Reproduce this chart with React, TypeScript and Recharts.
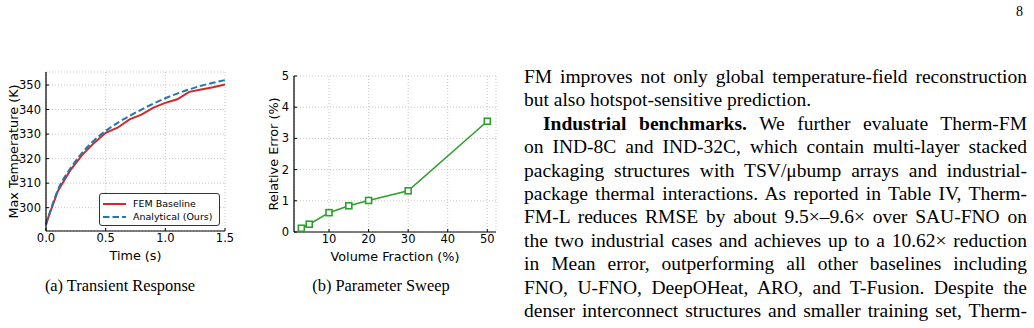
import React from 'react';
import { LineChart, Line, XAxis, YAxis, CartesianGrid } from 'recharts';

// (a) transient response
const timeSteps = [0, 0.1, 0.2, 0.3, 0.4, 0.5, 0.6, 0.7, 0.8, 0.9, 1.0, 1.1, 1.2, 1.3, 1.4, 1.5];
const femBaseline = [293.5, 306.8, 315.0, 321.3, 326.3, 330.5, 332.6, 336.0, 337.9, 340.8, 342.7, 344.2, 347.2, 348.2, 349.1, 350.2];
const analytical = [293.0, 307.3, 315.7, 322.2, 327.3, 331.3, 334.6, 337.4, 340.0, 342.4, 344.6, 346.5, 348.2, 349.7, 350.9, 352.0];
const timeTicks = [0, 0.5, 1.0, 1.5];
const tempTicks = [300, 310, 320, 330, 340, 350];

// (b) parameter sweep
const volumeFractions = [3, 5, 10, 15, 20, 30, 50];
const relativeError = [0.12, 0.25, 0.62, 0.84, 1.01, 1.32, 3.55];
const fractionTicks = [10, 20, 30, 40, 50];
const errorTicks = [0, 1, 2, 3, 4, 5];

const seriesNames = ['FEM Baseline', 'Analytical (Ours)'];

const bodyLines = [
  'FM improves not only global temperature-field reconstruction',
  'but also hotspot-sensitive prediction.',
  '',
  'on IND-8C and IND-32C, which contain multi-layer stacked',
  'packaging structures with TSV/\u03bcbump arrays and industrial-',
  'package thermal interactions. As reported in Table IV, Therm-',
  'FM-L reduces RMSE by about 9.5\u00d7\u20139.6\u00d7 over SAU-FNO on',
  'the two industrial cases and achieves up to a 10.62\u00d7 reduction',
  'in Mean error, outperforming all other baselines including',
  'FNO, U-FNO, DeepOHeat, ARO, and T-Fusion. Despite the',
  'denser interconnect structures and smaller training set, Therm-',
];

const RED = '#d62728';
const BLUE = '#1f77b4';
const GREEN = '#2ca02c';
const SANS = 'DejaVu Sans';

const transientData = timeSteps.map((t, i) => ({ t, fem: femBaseline[i], ana: analytical[i] }));
const sweepData = volumeFractions.map((v, i) => ({ v, err: relativeError[i] }));

const tickStyle = { fontSize: 11.5, fill: '#000', fontFamily: SANS };
const labelStyle = { fontSize: 12.8, fill: '#000', fontFamily: SANS, textAnchor: 'middle' as const };

const SquareDot = (props: any) => {
  const { cx, cy, index } = props;
  if (cx == null || cy == null) return null;
  return <rect key={`sq-${index}`} x={cx - 3} y={cy - 3} width={6} height={6} fill="#fff" stroke={GREEN} strokeWidth={1.6} />;
};

const TransientChart = () => (
  <LineChart width={240} height={207} data={transientData} margin={{ top: 12, right: 15, left: 10, bottom: 6 }}>
    <CartesianGrid stroke="#c8c8c8" strokeDasharray="1 2" />
    <XAxis
      dataKey="t"
      type="number"
      domain={[0, 1.5]}
      ticks={timeTicks}
      tickFormatter={(v: number) => v.toFixed(1)}
      tick={tickStyle}
      tickSize={-3}
      tickMargin={6}
      height={30}
      axisLine={{ stroke: '#000', strokeWidth: 1.2 }}
      tickLine={{ stroke: '#000' }}
      label={{ value: 'Time (s)', position: 'insideBottom', offset: 1, style: labelStyle }}
    />
    <XAxis xAxisId="top" orientation="top" dataKey="t" type="number" domain={[0, 1.5]} height={0} tick={false} tickLine={false} axisLine={{ stroke: '#000', strokeWidth: 1.2 }} />
    <YAxis
      type="number"
      domain={[290.5, 355.3]}
      ticks={tempTicks}
      tick={tickStyle}
      tickSize={-3}
      tickMargin={8}
      width={36}
      allowDataOverflow
      axisLine={{ stroke: '#000', strokeWidth: 1.2 }}
      tickLine={{ stroke: '#000' }}
      label={{ value: 'Max Temperature (K)', angle: -90, position: 'insideLeft', offset: 3, style: labelStyle }}
    />
    <YAxis yAxisId="right" orientation="right" type="number" domain={[290.5, 355.3]} width={0} tick={false} tickLine={false} axisLine={{ stroke: '#000', strokeWidth: 1.2 }} />
    <Line dataKey="fem" type="linear" stroke={RED} strokeWidth={2} dot={false} isAnimationActive={false} />
    <Line dataKey="ana" type="monotone" stroke={BLUE} strokeWidth={2} strokeDasharray="6.5 3" dot={false} isAnimationActive={false} />
  </LineChart>
);

const SweepChart = () => (
  <LineChart width={260} height={208} data={sweepData} margin={{ top: 16, right: 14, left: 20, bottom: 6 }}>
    <CartesianGrid stroke="#c8c8c8" strokeDasharray="1 2" />
    <XAxis
      dataKey="v"
      type="number"
      domain={[1.15, 52.2]}
      ticks={fractionTicks}
      tick={tickStyle}
      tickSize={-3}
      tickMargin={6}
      height={30}
      allowDataOverflow
      axisLine={{ stroke: '#000', strokeWidth: 1.2 }}
      tickLine={{ stroke: '#000' }}
      label={{ value: 'Volume Fraction (%)', position: 'insideBottom', offset: 1, style: labelStyle }}
    />
    <XAxis xAxisId="top" orientation="top" dataKey="v" type="number" domain={[1.15, 52.2]} height={0} tick={false} tickLine={false} axisLine={{ stroke: '#000', strokeWidth: 1.2 }} />
    <YAxis
      type="number"
      domain={[0, 5]}
      ticks={errorTicks}
      tick={tickStyle}
      tickSize={-3}
      tickMargin={8}
      width={24}
      axisLine={{ stroke: '#000', strokeWidth: 1.2 }}
      tickLine={{ stroke: '#000' }}
      label={{ value: 'Relative Error (%)', angle: -90, position: 'insideLeft', offset: 3, style: labelStyle }}
    />
    <YAxis yAxisId="right" orientation="right" type="number" domain={[0, 5]} width={0} tick={false} tickLine={false} axisLine={{ stroke: '#000', strokeWidth: 1.2 }} />
    <Line dataKey="err" type="linear" stroke={GREEN} strokeWidth={1.6} dot={<SquareDot />} isAnimationActive={false} />
  </LineChart>
);

const LegendBox = () => (
  <div style={{
    position: 'absolute', left: 99, top: 193, width: 119, height: 31,
    border: '1px solid #333', borderRadius: 3, background: '#fff',
    fontFamily: SANS, fontSize: 9.5, color: '#000',
  }}>
    {seriesNames.map((name, i) => (
      <div key={name} style={{ position: 'absolute', left: 3, top: 3 + i * 13, height: 13, display: 'flex', alignItems: 'center', whiteSpace: 'nowrap' }}>
        <svg width={24} height={4} style={{ marginRight: 6 }}>
          <line x1={0} y1={2} x2={23} y2={2} stroke={i === 0 ? RED : BLUE} strokeWidth={2} strokeDasharray={i === 0 ? undefined : '6.5 3'} />
        </svg>
        <span>{name}</span>
      </div>
    ))}
  </div>
);

export default function App() {
  return (
    <div style={{ position: 'absolute', left: 0, top: 0, width: 1034, height: 328, background: '#fff', fontFamily: 'Liberation Serif', color: '#000', overflow: 'hidden' }}>
      <div style={{ position: 'absolute', left: 1016, top: 4, fontSize: 14 }}>8</div>

      <div style={{ position: 'absolute', left: 0, top: 60 }}>
        <TransientChart />
      </div>
      <LegendBox />
      <div style={{ position: 'absolute', left: 250, top: 60 }}>
        <SweepChart />
      </div>

      <div style={{ position: 'absolute', left: 0, top: 276, width: 240, textAlign: 'center', fontSize: 16.4 }}>(a) Transient Response</div>
      <div style={{ position: 'absolute', left: 281, top: 276, width: 200, textAlign: 'center', fontSize: 16.4 }}>(b) Parameter Sweep</div>

      <div style={{ position: 'absolute', left: 524, top: 65, width: 503, fontSize: 19.5, lineHeight: '23.4px' }}>
        {bodyLines.map((line, i) => {
          if (i === 2) {
            return (
              <div key={i} style={{ textAlign: 'justify', textAlignLast: 'justify', textIndent: 19, whiteSpace: 'nowrap' }}>
                <b>Industrial benchmarks.</b> We further evaluate Therm-FM
              </div>
            );
          }
          const last = i === 1;
          return (
            <div key={i} style={{ textAlign: last ? 'left' : 'justify', textAlignLast: last ? 'left' : 'justify', whiteSpace: 'nowrap' }}>
              {line}
            </div>
          );
        })}
      </div>
    </div>
  );
}
